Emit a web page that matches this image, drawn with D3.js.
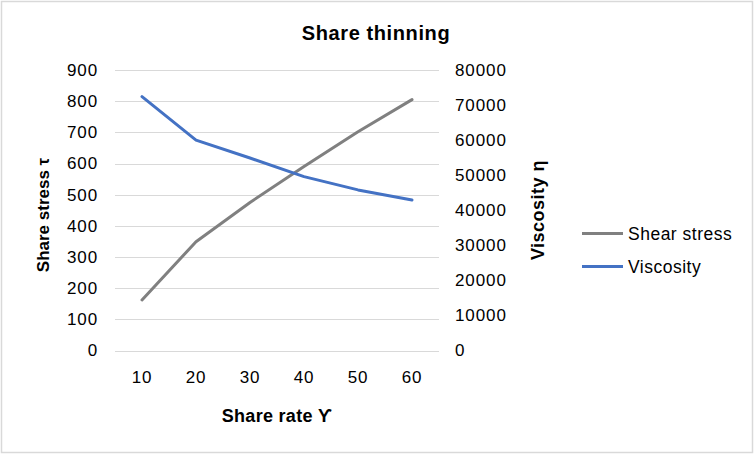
<!DOCTYPE html>
<html><head><meta charset="utf-8">
<script src="https://cdn.jsdelivr.net/npm/d3@7"></script>
<style>body{margin:0;background:#fff}svg{display:block;font-family:Arial,"Liberation Sans",sans-serif}</style>
</head><body><svg id="c" width="756" height="456"></svg>
<script>
const categories = [10, 20, 30, 40, 50, 60];
const shearStress = [162, 349, 475, 590, 702, 805];
const viscosity = [72400, 60000, 54900, 49600, 45800, 42900];
const leftTicks = [0,100,200,300,400,500,600,700,800,900];
const rightTicks = [0,10000,20000,30000,40000,50000,60000,70000,80000];

const FONT = "Arial,'Liberation Sans',sans-serif";
const svg = d3.select("#c");
svg.append("rect").attr("x",1.5).attr("y",1.5).attr("width",751).attr("height",451)
  .attr("fill","#fff").attr("stroke","#d9d9d9").attr("stroke-width",1.5);

const L=115, R=439, T=70, B=350.5;
const x = d3.scaleBand().domain(categories).range([L,R]);
const yL = d3.scaleLinear().domain([0,900]).range([B,T]);
const yR = d3.scaleLinear().domain([0,80000]).range([B,T]);

// gridlines
svg.append("g").selectAll("line").data(leftTicks).join("line")
  .attr("x1",L).attr("x2",R).attr("y1",d=>Math.round(yL(d))+0.5).attr("y2",d=>Math.round(yL(d))+0.5)
  .attr("stroke","#d9d9d9").attr("stroke-width",1);

function styleTicks(g){
  g.select(".domain").remove();
  g.selectAll("text").attr("font-size",17).attr("letter-spacing",0.9).attr("fill","#000").attr("font-family",FONT);
}
// left axis
const ga = svg.append("g").attr("transform",`translate(${L-17},0)`)
  .call(d3.axisLeft(yL).tickValues(leftTicks).tickSize(0).tickPadding(0));
styleTicks(ga);

// right axis
const gr = svg.append("g").attr("transform",`translate(${R+16},0)`)
  .call(d3.axisRight(yR).tickValues(rightTicks).tickFormat(d3.format("d")).tickSize(0).tickPadding(0));
styleTicks(gr);

// x axis
const gx = svg.append("g").attr("transform",`translate(0,${B+20})`)
  .call(d3.axisBottom(x).tickSize(0).tickPadding(0));
styleTicks(gx);
gx.selectAll("text").attr("dy","0.75em");

// lines
const lineL = d3.line().x((d,i)=>x(categories[i])+x.bandwidth()/2).y(d=>yL(d));
const lineR = d3.line().x((d,i)=>x(categories[i])+x.bandwidth()/2).y(d=>yR(d));
svg.append("path").attr("d",lineL(shearStress)).attr("fill","none").attr("stroke","#808080")
  .attr("stroke-width",3).attr("stroke-linejoin","round").attr("stroke-linecap","round");
svg.append("path").attr("d",lineR(viscosity)).attr("fill","none").attr("stroke","#4472c4")
  .attr("stroke-width",3).attr("stroke-linejoin","round").attr("stroke-linecap","round");

// titles
svg.append("text").attr("x",376).attr("y",40).attr("text-anchor","middle")
  .attr("font-size",20).attr("letter-spacing",0.6).attr("font-weight","bold").text("Share thinning");
svg.append("text").attr("transform","translate(49,215) rotate(-90)").attr("text-anchor","middle")
  .attr("font-size",17).attr("font-weight","bold").text("Share stress τ");
svg.append("text").attr("transform","translate(544,210) rotate(-90)").attr("text-anchor","middle")
  .attr("font-size",18).attr("letter-spacing",0.5).attr("font-weight","bold").text("Viscosity η");
svg.append("text").attr("x",277).attr("y",422).attr("text-anchor","middle")
  .attr("font-size",18).attr("letter-spacing",0.3).attr("font-weight","bold").text("Share rate ϒ");

// legend
const legend = [{name:"Shear stress",color:"#808080"},{name:"Viscosity",color:"#4472c4"}];
const lg = svg.append("g").selectAll("g").data(legend).join("g")
  .attr("transform",(d,i)=>`translate(582,${233.5+i*33})`);
lg.append("line").attr("x1",0).attr("x2",41).attr("y1",0).attr("y2",0)
  .attr("stroke",d=>d.color).attr("stroke-width",3);
lg.append("text").attr("x",46).attr("y",0).attr("dy","0.35em").attr("font-size",17.5)
  .attr("letter-spacing",0.5).text(d=>d.name);
</script></body></html>
